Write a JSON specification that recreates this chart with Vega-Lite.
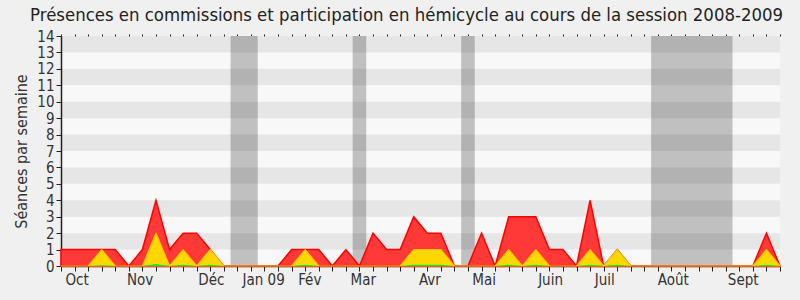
{
  "$schema": "https://vega.github.io/schema/vega-lite/v6.json",
  "width": 719,
  "height": 230,
  "autosize": {"type": "none"},
  "padding": {"left": 61, "top": 36, "right": 20, "bottom": 34},
  "background": "#f0f0f0",
  "title": {
    "text": "Présences en commissions et participation en hémicycle au cours de la session 2008-2009",
    "font": "DejaVu Sans Condensed",
    "fontSize": 18.4,
    "fontWeight": "normal",
    "color": "#222222",
    "anchor": "end",
    "offset": 5
  },
  "config": {
    "view": {"stroke": null, "fill": "#f8f8f8"},
    "axis": {"labelFont": "DejaVu Sans Condensed", "titleFont": "DejaVu Sans Condensed", "labelColor": "#333333", "titleColor": "#333333", "grid": false}
  },
  "datasets": {
    "weeks": [
      {"week": 0, "red": 1, "yellow": 0, "green": 0},
      {"week": 1, "red": 1, "yellow": 0, "green": 0},
      {"week": 2, "red": 1, "yellow": 0, "green": 0},
      {"week": 3, "red": 1, "yellow": 1, "green": 0.05},
      {"week": 4, "red": 1, "yellow": 0, "green": 0},
      {"week": 5, "red": 0, "yellow": 0, "green": 0},
      {"week": 6, "red": 1, "yellow": 0, "green": 0},
      {"week": 7, "red": 4, "yellow": 2, "green": 0.12},
      {"week": 8, "red": 1, "yellow": 0, "green": 0},
      {"week": 9, "red": 2, "yellow": 1, "green": 0.07},
      {"week": 10, "red": 2, "yellow": 0, "green": 0},
      {"week": 11, "red": 1, "yellow": 1, "green": 0.07},
      {"week": 12, "red": 0, "yellow": 0, "green": 0},
      {"week": 13, "red": 0, "yellow": 0, "green": 0},
      {"week": 14, "red": 0, "yellow": 0, "green": 0},
      {"week": 15, "red": 0, "yellow": 0, "green": 0},
      {"week": 16, "red": 0, "yellow": 0, "green": 0},
      {"week": 17, "red": 1, "yellow": 0, "green": 0},
      {"week": 18, "red": 1, "yellow": 1, "green": 0.07},
      {"week": 19, "red": 1, "yellow": 0, "green": 0},
      {"week": 20, "red": 0, "yellow": 0, "green": 0},
      {"week": 21, "red": 1, "yellow": 0, "green": 0},
      {"week": 22, "red": 0, "yellow": 0, "green": 0},
      {"week": 23, "red": 2, "yellow": 0, "green": 0},
      {"week": 24, "red": 1, "yellow": 0, "green": 0},
      {"week": 25, "red": 1, "yellow": 0, "green": 0},
      {"week": 26, "red": 3, "yellow": 1, "green": 0.07},
      {"week": 27, "red": 2, "yellow": 1, "green": 0.07},
      {"week": 28, "red": 2, "yellow": 1, "green": 0.07},
      {"week": 29, "red": 0, "yellow": 0, "green": 0},
      {"week": 30, "red": 0, "yellow": 0, "green": 0},
      {"week": 31, "red": 2, "yellow": 0, "green": 0},
      {"week": 32, "red": 0, "yellow": 0, "green": 0},
      {"week": 33, "red": 3, "yellow": 1, "green": 0.07},
      {"week": 34, "red": 3, "yellow": 0, "green": 0},
      {"week": 35, "red": 3, "yellow": 1, "green": 0.07},
      {"week": 36, "red": 1, "yellow": 0, "green": 0},
      {"week": 37, "red": 1, "yellow": 0, "green": 0},
      {"week": 38, "red": 0, "yellow": 0, "green": 0},
      {"week": 39, "red": 4, "yellow": 1, "green": 0.07},
      {"week": 40, "red": 0, "yellow": 0, "green": 0},
      {"week": 41, "red": 1, "yellow": 1, "green": 0.07},
      {"week": 42, "red": 0, "yellow": 0, "green": 0},
      {"week": 43, "red": 0, "yellow": 0, "green": 0},
      {"week": 44, "red": 0, "yellow": 0, "green": 0},
      {"week": 45, "red": 0, "yellow": 0, "green": 0},
      {"week": 46, "red": 0, "yellow": 0, "green": 0},
      {"week": 47, "red": 0, "yellow": 0, "green": 0},
      {"week": 48, "red": 0, "yellow": 0, "green": 0},
      {"week": 49, "red": 0, "yellow": 0, "green": 0},
      {"week": 50, "red": 0, "yellow": 0, "green": 0},
      {"week": 51, "red": 0, "yellow": 0, "green": 0},
      {"week": 52, "red": 2, "yellow": 1, "green": 0.07},
      {"week": 53, "red": 0, "yellow": 0, "green": 0}
    ],
    "stripes": [
      {"lo": 1, "hi": 2}, {"lo": 3, "hi": 4}, {"lo": 5, "hi": 6}, {"lo": 7, "hi": 8},
      {"lo": 9, "hi": 10}, {"lo": 11, "hi": 12}, {"lo": 13, "hi": 14}
    ],
    "vacations": [
      {"start": 12.5, "end": 14.5},
      {"start": 21.5, "end": 22.5},
      {"start": 29.5, "end": 30.5},
      {"start": 43.5, "end": 49.5}
    ]
  },
  "layer": [
    {
      "data": {"name": "vacations"},
      "mark": {"type": "rect", "color": "#c0c0c0"},
      "encoding": {
        "x": {
          "field": "start", "type": "quantitative",
          "scale": {"domain": [0, 53], "nice": false, "zero": false},
          "axis": {"orient": "top", "values": [0,1,2,3,4,5,6,7,8,9,10,11,12,13,14,15,16,17,18,19,20,21,22,23,24,25,26,27,28,29,30,31,32,33,34,35,36,37,38,39,40,41,42,43,44,45,46,47,48,49,50,51,52,53], "labels": false, "domain": false, "tickSize": 2, "tickColor": "#222222", "tickWidth": 1, "title": null}
        },
        "x2": {"field": "end"}
      }
    },
    {
      "data": {"name": "stripes"},
      "mark": {"type": "rect", "color": "#000000", "opacity": 0.07},
      "encoding": {
        "y": {"field": "lo", "type": "quantitative", "scale": {"domain": [0, 14], "nice": false}, "axis": null},
        "y2": {"field": "hi"}
      }
    },
    {
      "data": {"name": "weeks"},
      "mark": {"type": "area", "color": "#ff3838", "opacity": 1, "stroke": "#ff0000", "strokeWidth": 1.5, "interpolate": "linear"},
      "encoding": {
        "x": {
          "field": "week", "type": "quantitative",
          "scale": {"domain": [0, 53], "nice": false, "zero": false},
          "axis": {
            "orient": "bottom",
            "title": null,
            "values": [0,1,2,3,4,5,6,7,8,9,10,11,12,13,14,15,16,17,18,19,20,21,22,23,24,25,26,27,28,29,30,31,32,33,34,35,36,37,38,39,40,41,42,43,44,45,46,47,48,49,50,51,52,53,1.15,5.8,11.05,14.9,18.3,22.25,27.15,31.15,36.05,40.05,45.1,50.25],
            "labelExpr": "datum.value == 1.15 ? 'Oct' : datum.value == 5.8 ? 'Nov' : datum.value == 11.05 ? 'Déc' : datum.value == 14.9 ? 'Jan 09' : datum.value == 18.3 ? 'Fév' : datum.value == 22.25 ? 'Mar' : datum.value == 27.15 ? 'Avr' : datum.value == 31.15 ? 'Mai' : datum.value == 36.05 ? 'Juin' : datum.value == 40.05 ? 'Juil' : datum.value == 45.1 ? 'Août' : datum.value == 50.25 ? 'Sept' : ''",
            "tickOpacity": {"condition": {"test": "datum.value % 1 != 0", "value": 0}, "value": 1},
            "labelOverlap": false,
            "labelFlush": false,
            "labelFontSize": 15,
            "labelPadding": 1,
            "tickSize": 5,
            "tickColor": "#222222",
            "domainColor": "#222222",
            "domainWidth": 1.5
          }
        },
        "y": {
          "field": "red", "type": "quantitative", "stack": null,
          "scale": {"domain": [0, 14], "nice": false},
          "axis": {
            "orient": "left",
            "values": [0,1,2,3,4,5,6,7,8,9,10,11,12,13,14],
            "title": "Séances par semaine",
            "titleFontSize": 16,
            "titleFontWeight": "normal",
            "titlePadding": 7,
            "labelFontSize": 15,
            "labelPadding": 2,
            "tickSize": 5,
            "tickColor": "#222222",
            "domainColor": "#222222",
            "domainWidth": 1.5
          }
        }
      }
    },
    {
      "data": {"name": "weeks"},
      "mark": {"type": "area", "color": "#ffd700", "opacity": 1, "stroke": "#ffc400", "strokeWidth": 1.2, "interpolate": "linear"},
      "encoding": {
        "x": {"field": "week", "type": "quantitative", "axis": null},
        "y": {"field": "yellow", "type": "quantitative", "stack": null, "axis": null}
      }
    },
    {
      "data": {"name": "weeks"},
      "mark": {"type": "area", "color": "#22dd22", "opacity": 1, "interpolate": "linear"},
      "encoding": {
        "x": {"field": "week", "type": "quantitative", "axis": null},
        "y": {"field": "green", "type": "quantitative", "stack": null, "axis": null}
      }
    }
  ],
  "resolve": {"axis": {"x": "independent", "y": "independent"}}
}
